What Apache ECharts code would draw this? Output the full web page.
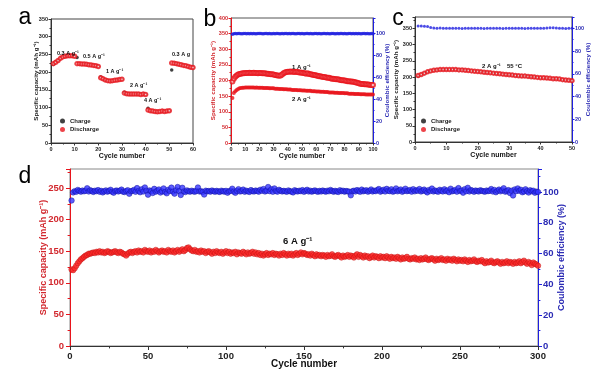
<!DOCTYPE html>
<html><head><meta charset="utf-8">
<script src="https://cdn.jsdelivr.net/npm/echarts@6/dist/echarts.min.js"></script>
<style>html,body{margin:0;padding:0;background:#fff}#c{width:600px;height:370px}</style>
</head><body><div id="c"></div>
<script>
// ---------- Panel a: rate capability (cycles 1..60) ----------
const aRates = ['0.3 A g⁻¹','0.5 A g⁻¹','1 A g⁻¹','2 A g⁻¹','4 A g⁻¹','0.3 A g'];
const aCharge = [222,229,233,239,243,245,246,246,246,245,
  241,224,223,223,222,221,220,219,218,216,
  186,181,178,176,175,176,177,178,179,180,
  143,139,138,138,138,138,138,137,138,137,
  98,91,90,89,88,89,90,89,90,91,
  206,225,224,222,221,219,218,216,214,213];
const aDischarge = [224,228,233,239,243,245,246,246,246,245,
  224,224,223,223,222,221,220,219,218,216,
  184,181,178,176,175,176,177,178,179,180,
  141,139,138,138,138,138,138,137,138,137,
  93,91,90,89,88,89,90,89,90,91,
  226,225,224,222,221,219,218,216,214,213];

// ---------- Panel b: cycling at 1 and 2 A g-1 (cycles 1..100) ----------
const b1A = [197,206,212,216,219,221,222,223,223,224,
  224,224,225,224,224,225,224,224,223,224,
  224,223,223,223,222,222,221,220,220,219,
  218,217,216,215,216,219,223,226,227,228,
  228,229,228,228,227,228,227,226,226,225,
  224,223,222,223,221,220,219,218,218,216,
  215,214,214,212,211,211,210,209,209,207,
  206,206,205,204,204,203,202,201,201,200,
  199,198,198,197,197,196,195,194,193,191,
  190,189,189,188,188,187,187,186,186,186];
const b2A = [144,160,166,170,173,175,176,177,177,178,
  178,178,178,178,178,178,177,178,177,177,
  177,177,176,176,176,176,175,175,175,175,
  174,174,174,173,173,173,172,172,172,171,
  171,171,170,170,170,170,169,169,169,168,
  168,168,167,167,167,167,166,166,166,165,
  165,165,164,164,164,163,163,163,162,162,
  162,162,161,161,161,160,160,160,160,159,
  159,159,158,158,158,158,157,157,157,157,
  156,156,156,156,155,155,155,155,155,155];
const bCE = [99.4,99.9,100.1,100.0,100.2,100.1,99.9,100.0,100.2,100.1,
  100.0,100.1,99.9,100.2,100.0,100.1,100.0,99.9,100.1,100.2,
  100.1,100.0,99.9,100.1,100.2,100.0,100.1,99.9,100.0,100.2,
  100.0,100.1,100.2,100.0,99.9,100.1,100.0,100.2,100.1,99.9,
  100.1,100.0,100.2,100.1,100.0,99.9,100.1,100.2,100.0,100.1,
  99.9,100.0,100.1,100.2,100.0,100.1,99.9,100.0,100.2,100.1,
  100.0,100.1,100.0,99.9,100.2,100.1,100.0,100.1,99.9,100.0,
  100.2,100.1,100.0,99.9,100.1,100.0,100.2,100.1,100.0,100.1,
  99.9,100.0,100.2,100.1,100.0,100.1,99.9,100.2,100.0,100.1,
  100.0,99.9,100.1,100.2,100.0,100.1,100.0,99.9,100.1,100.0];

// ---------- Panel c: 2 A g-1 at 55 °C (cycles 1..50) ----------
const cCharge = [203,208,212,216,219,221,222,223,223,223,
  223,223,223,222,222,221,220,219,218,217,
  216,215,214,213,212,211,210,209,208,207,
  206,205,204,203,203,202,201,200,199,198,
  198,197,196,195,195,194,192,191,190,189];
const cDischarge = [205,208,212,216,219,221,222,223,223,223,
  223,223,223,222,222,221,220,219,218,217,
  216,215,214,213,212,211,210,209,208,207,
  206,205,204,203,203,202,201,200,199,198,
  198,197,196,195,195,194,192,191,190,189];
const cCE = [102.0,102.1,101.9,101.6,100.8,100.3,100.2,100.4,100.1,100.2,
  100.0,100.1,100.2,100.0,99.9,100.1,100.0,100.2,100.1,100.0,
  100.1,99.9,100.0,100.1,100.2,100.0,100.1,99.9,100.0,100.1,
  100.0,100.2,100.1,100.0,99.9,100.1,100.0,100.2,100.1,100.0,
  100.2,100.4,100.6,100.5,100.3,100.1,100.0,99.9,100.0,100.1];

// ---------- Panel d: long cycling at 6 A g-1 (cycles 1..300) ----------
const dCap = [121,120,123,127,131,134,137,139,141,143,144,146,146,147,148,147,149,148,150,148,
  149,147,148,150,149,147,148,149,150,148,147,149,148,146,145,143,146,148,149,147,
  149,150,148,151,149,150,148,152,150,149,151,148,150,149,152,150,148,150,151,149,
  150,148,152,150,149,151,148,150,152,149,151,153,150,152,155,156,153,151,150,152,
  149,150,148,151,149,150,147,149,150,148,146,149,147,150,148,147,149,146,148,150,
  147,149,146,148,147,149,145,148,147,146,149,147,145,148,146,147,149,146,148,145,
  147,144,146,143,145,147,144,146,145,147,144,146,145,143,146,144,147,145,143,146,
  144,146,143,145,147,144,146,148,145,147,146,144,145,143,146,144,142,145,143,144,
  142,144,143,141,144,142,143,145,142,141,143,144,142,140,143,141,142,144,141,143,
  142,140,143,145,141,144,142,140,143,141,142,139,141,143,140,142,141,139,142,140,
  141,139,142,140,138,141,139,140,138,141,139,137,140,138,139,141,138,137,139,138,
  140,137,138,136,139,137,138,140,137,136,138,139,137,135,138,136,137,139,136,137,
  135,138,136,137,135,138,136,134,137,135,136,134,137,135,133,136,134,135,137,134,
  133,135,134,136,133,131,134,132,133,135,132,131,133,134,132,130,133,131,132,134,
  131,133,132,130,133,131,132,134,131,133,135,132,130,133,131,128,132,130,129,127];
const dCE = [94.5,99.8,100.6,100.2,101.4,100.8,100.3,101.0,100.5,100.9,102.5,100.4,101.2,100.7,100.1,100.9,100.6,101.3,100.2,100.8,
  99.8,100.5,101.1,100.3,100.7,101.5,100.2,99.6,100.8,101.0,100.4,100.9,101.6,100.3,100.0,100.7,101.2,98.9,100.5,100.8,
  101.4,100.2,102.6,100.7,99.9,101.8,100.4,103.0,100.9,98.3,101.1,100.6,99.4,102.1,100.3,100.9,101.7,99.7,100.5,102.4,
  100.1,99.2,101.5,100.7,102.9,100.3,99.0,101.2,103.3,100.6,98.1,102.8,100.4,100.0,101.1,100.6,100.3,100.9,100.5,100.2,
  100.8,103.0,100.4,100.6,100.1,98.4,100.9,100.5,100.7,100.3,101.0,100.6,100.2,100.8,100.4,100.1,100.9,100.6,100.3,100.8,
  99.6,100.5,100.9,102.2,100.3,99.5,100.8,101.9,100.4,100.7,101.6,100.2,100.9,100.5,100.1,101.3,100.6,100.4,101.0,100.7,
  100.3,101.5,100.8,102.0,100.4,100.9,103.3,100.6,101.8,100.2,102.4,100.7,100.3,101.5,100.9,100.4,100.8,100.5,100.2,101.1,
  100.6,100.3,99.8,101.2,100.7,100.4,100.9,100.6,101.3,100.2,100.8,101.5,100.4,100.9,100.3,100.7,101.1,100.5,100.2,100.8,
  100.4,101.0,100.6,100.3,100.9,100.5,101.4,100.7,100.2,100.8,100.4,100.1,101.2,100.6,100.9,100.3,100.7,100.5,100.2,97.9,
  100.6,100.9,100.4,101.3,100.7,100.2,101.6,100.5,100.9,101.2,100.3,100.8,101.7,100.4,100.9,100.6,101.4,102.0,100.3,100.8,
  101.5,100.4,102.1,100.9,100.6,101.8,100.3,100.7,102.4,100.5,101.0,101.7,100.2,100.8,102.2,100.6,100.9,101.4,100.3,101.9,
  100.5,101.2,100.8,102.0,100.4,100.9,101.6,100.6,99.8,101.3,100.7,102.3,100.4,101.0,100.6,100.2,101.5,100.9,100.4,101.8,
  100.6,101.1,99.9,102.2,100.5,100.8,101.4,100.3,102.6,100.7,101.0,99.6,101.9,100.6,102.8,100.4,101.3,100.9,100.2,101.0,
  100.7,100.4,101.2,100.8,100.5,100.3,101.0,100.6,100.9,102.0,100.4,101.4,99.9,100.8,101.6,100.5,101.1,102.5,100.3,100.7,
  101.3,99.4,100.9,97.8,101.7,100.6,102.4,100.8,101.5,99.9,100.4,101.8,100.6,99.7,101.2,100.5,100.9,99.6,100.3,100.1];

// ---------- styling ----------
const FF = 'Liberation Sans, Arial, sans-serif';
const RED = '#e8141c', BLUE = '#1f1fe0', RLAB = '#d2282e', BLAB = '#2b2bb4', DARK = '#222';
const pts = arr => arr.map((v, i) => [i + 1, v]);

function xAx(g, max, interval, o) {
  o = o || {};
  return {
    type: 'value', gridIndex: g, min: 0, max: max, interval: interval,
    splitLine: {show: false},
    axisLine: {onZero: false, lineStyle: {color: '#333', width: 1}},
    axisTick: {length: o.tick || 2.5, lineStyle: {color: '#333'}},
    minorTick: {show: true, splitNumber: 2, length: (o.tick || 2.5) * 0.6, lineStyle: {color: '#333'}},
    axisLabel: {fontSize: o.fs || 5.5, fontWeight: 'bold', color: DARK, margin: o.margin || 3, fontFamily: FF},
    name: 'Cycle number', nameLocation: 'middle', nameGap: o.gap || 10, nameMoveOverlap: false,
    nameTextStyle: {fontSize: o.nfs || 7, fontWeight: 'bold', color: '#111', fontFamily: FF}
  };
}
function yAx(g, pos, max, interval, color, labColor, name, gap, o) {
  o = o || {};
  return {
    type: 'value', gridIndex: g, position: pos, min: 0, max: max, interval: interval,
    splitLine: {show: false},
    axisLine: {onZero: false, lineStyle: {color: color, width: 1}},
    axisTick: {length: o.tick || 2.5, lineStyle: {color: color}},
    minorTick: {show: true, splitNumber: 2, length: (o.tick || 2.5) * 0.6, lineStyle: {color: color}},
    axisLabel: {fontSize: o.fs || 5.5, fontWeight: 'bold', color: labColor, margin: o.margin || 3,
      fontFamily: FF, showMaxLabel: o.hideMax ? false : true},
    name: name, nameLocation: 'middle', nameGap: gap, nameRotate: 90, nameMoveOverlap: false,
    nameTextStyle: {fontSize: o.nfs || 6.2, fontWeight: 'bold', color: labColor, fontFamily: FF}
  };
}
function txt(x, y, s, size, color, align, weight) {
  return {type: 'text', x: x, y: y, z: 100, silent: true,
    style: {text: s, font: (weight || 'bold') + ' ' + size + 'px ' + FF, fill: color || '#111',
      align: align || 'left', verticalAlign: 'middle'}};
}

const option = {
  animation: false,
  backgroundColor: '#fff',
  grid: [
    {left: 51, top: 19, width: 142, height: 124, show: true, borderColor: '#444', borderWidth: 1},
    {left: 231, top: 18, width: 142, height: 125, show: true, borderColor: '#555', borderWidth: 1},
    {left: 415, top: 17, width: 157, height: 125, show: true, borderColor: '#444', borderWidth: 1},
    {left: 70, top: 169, width: 468, height: 178, show: true, borderColor: '#888', borderWidth: 1}
  ],
  xAxis: [
    xAx(0, 60, 10, {gap: 10}),
    xAx(1, 100, 10, {gap: 10}),
    xAx(2, 50, 10, {gap: 10}),
    xAx(3, 300, 50, {fs: 9.5, nfs: 10, gap: 13, tick: 4, margin: 5})
  ],
  yAxis: [
    yAx(0, 'left', 350, 50, '#333', DARK, 'Specific capacity (mAh g⁻¹)', 11.5),
    yAx(1, 'left', 400, 50, RED, RLAB, 'Specific capacity (mAh g⁻¹)', 15),
    yAx(1, 'right', 400 / 3.5, 20, BLUE, BLAB, 'Coulombic efficiency (%)', 11.5, {hideMax: true}),
    yAx(2, 'left', 385, 50, '#333', DARK, 'Specific capacity (mAh g⁻¹)', 15.5, {hideMax: true}),
    yAx(2, 'right', 110, 20, BLUE, BLAB, 'Coulombic efficiency (%)', 13, {hideMax: true}),
    yAx(3, 'left', 280, 50, RED, RLAB, 'Specific capacity (mAh g⁻¹)', 22,
      {hideMax: true, fs: 9.5, nfs: 9, tick: 4, margin: 6}),
    yAx(3, 'right', 115, 20, BLUE, BLAB, 'Coulombic efficiency (%)', 19,
      {hideMax: true, fs: 9.5, nfs: 9, tick: 4, margin: 5})
  ],
  legend: [
    {data: [{name: 'Charge', icon: 'circle'}, {name: 'Discharge', icon: 'circle'}], orient: 'vertical',
      left: 60, top: 118, itemWidth: 5, itemHeight: 5, itemGap: 2.5, padding: 0,
      textStyle: {fontSize: 6, fontWeight: 'bold', color: '#222', fontFamily: FF}},
    {data: [{name: 'Charge', icon: 'circle'}, {name: 'Discharge', icon: 'circle'}], orient: 'vertical',
      left: 421, top: 118, itemWidth: 5, itemHeight: 5, itemGap: 2.5, padding: 0,
      textStyle: {fontSize: 6, fontWeight: 'bold', color: '#222', fontFamily: FF}}
  ],
  series: [
    {name: 'Charge', type: 'scatter', xAxisIndex: 0, yAxisIndex: 0, data: pts(aCharge),
      symbol: 'circle', symbolSize: 3.5, itemStyle: {color: '#111'}},
    {name: 'Discharge', type: 'scatter', xAxisIndex: 0, yAxisIndex: 0, data: pts(aDischarge),
      symbol: 'emptyCircle', symbolSize: 3.5, itemStyle: {color: RED, borderWidth: 1.2}},
    {name: '1 A g⁻¹', type: 'scatter', xAxisIndex: 1, yAxisIndex: 1, data: pts(b1A),
      symbol: 'emptyCircle', symbolSize: 4, itemStyle: {color: RED, borderWidth: 1.1}},
    {name: '2 A g⁻¹', type: 'scatter', xAxisIndex: 1, yAxisIndex: 1, data: pts(b2A),
      symbol: 'circle', symbolSize: 4, itemStyle: {color: RED}},
    {name: 'CE b', type: 'scatter', xAxisIndex: 1, yAxisIndex: 2, data: pts(bCE),
      symbol: 'circle', symbolSize: 3.5, itemStyle: {color: BLUE}},
    {name: 'Charge', type: 'scatter', xAxisIndex: 2, yAxisIndex: 3, data: pts(cCharge),
      symbol: 'circle', symbolSize: 3.5, itemStyle: {color: '#111'}},
    {name: 'Discharge', type: 'scatter', xAxisIndex: 2, yAxisIndex: 3, data: pts(cDischarge),
      symbol: 'emptyCircle', symbolSize: 3.5, itemStyle: {color: RED, borderWidth: 1.2}},
    {name: 'CE c', type: 'scatter', xAxisIndex: 2, yAxisIndex: 4, data: pts(cCE),
      symbol: 'circle', symbolSize: 3, itemStyle: {color: BLUE}},
    {name: '6 A g⁻¹', type: 'scatter', xAxisIndex: 3, yAxisIndex: 5, data: pts(dCap),
      symbol: 'circle', symbolSize: 5.5, itemStyle: {color: '#ff2a2a', borderColor: '#c01010', borderWidth: 0.6}},
    {name: 'CE d', type: 'scatter', xAxisIndex: 3, yAxisIndex: 6, data: pts(dCE),
      symbol: 'circle', symbolSize: 5.5, itemStyle: {color: '#3434ff', borderColor: '#10109a', borderWidth: 0.6}}
  ],
  graphic: [
    txt(25, 17.7, 'a', 23, '#000', 'center', 'normal'),
    txt(210, 19.7, 'b', 23, '#000', 'center', 'normal'),
    txt(398, 18.7, 'c', 23, '#000', 'center', 'normal'),
    txt(25, 176.7, 'd', 23, '#000', 'center', 'normal'),
    txt(57, 53, aRates[0], 5.5),
    txt(83, 56, aRates[1], 5.5),
    txt(106, 71, aRates[2], 5.5),
    txt(130, 85.5, aRates[3], 5.5),
    txt(144, 100, aRates[4], 5.5),
    txt(172, 54, aRates[5], 5.5),
    txt(292, 67.5, '1 A g⁻¹', 6),
    txt(292, 99, '2 A g⁻¹', 6),
    txt(482, 66.5, '2 A g⁻¹', 6),
    txt(507, 66.5, '55 °C', 6),
    txt(283, 241.5, '6 A g⁻¹', 9.5)
  ]
};
echarts.init(document.getElementById('c'), null, {renderer: 'canvas'}).setOption(option);
</script></body></html>
